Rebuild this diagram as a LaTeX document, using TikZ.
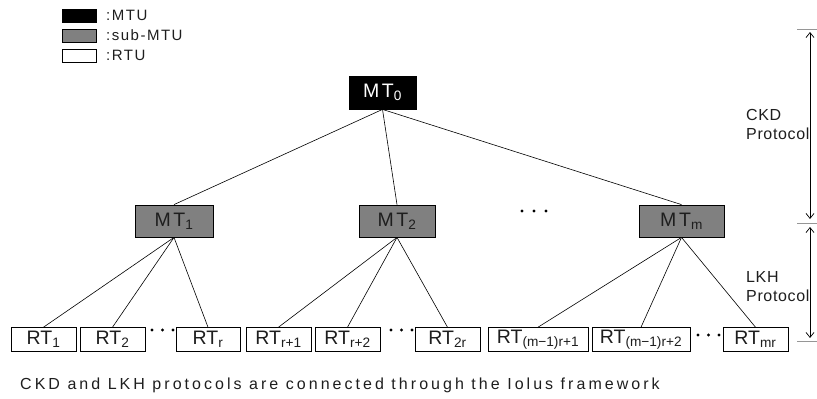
\documentclass[tikz,border=0pt]{standalone}
\usepackage{fontspec}
\setmainfont{Liberation Sans}
\usetikzlibrary{arrows.meta}
\definecolor{subgray}{RGB}{128,128,128}
\definecolor{rulegray}{RGB}{150,150,150}
\definecolor{txt}{RGB}{30,30,30}
\begin{document}
\begin{tikzpicture}[x=1pt,y=-1pt,
  mtbox/.style={draw=black, line width=0.8pt, minimum height=32pt, inner sep=0pt,
    font=\fontsize{19.5}{21}\selectfont\addfontfeature{LetterSpace=14}},
  rootbox/.style={mtbox, fill=black, text=white},
  subbox/.style={mtbox, fill=subgray, text=txt},
  rtbox/.style={draw=black, line width=0.6pt, fill=white, minimum height=24pt, inner sep=0pt,
    font=\fontsize{19.5}{21}\selectfont, text=txt},
  link/.style={draw=black, line width=0.6pt},
  legbox/.style={draw=black, line width=0.6pt, minimum width=34pt, minimum height=13pt, inner sep=0pt},
  legtext/.style={anchor=west, inner sep=0pt, font=\fontsize{15}{17}\selectfont\addfontfeature{LetterSpace=10}, text=txt},
  sidetext/.style={anchor=west, align=left, inner sep=0pt, font=\fontsize{16}{19}\selectfont\addfontfeature{LetterSpace=4}, text=txt},
  rulex/.style={draw=rulegray, line width=1pt},
  dimarrow/.style={draw=black, line width=0.7pt, {Straight Barb[length=5pt,width=8pt]}-{Straight Barb[length=5pt,width=8pt]}},
  dotc/.style={fill=black}
]
\useasboundingbox (0,0) rectangle (817,399);

% legend
\node[legbox, fill=black] (lg1) at (79,15.5) {};
\node[legbox, fill=subgray] (lg2) at (79,35.5) {};
\node[legbox, fill=white] (lg3) at (79,55.5) {};
\node[legtext] (lt1) at (106,15.5) {:MTU};
\node[legtext] (lt2) at (106,35.5) {:sub-MTU};
\node[legtext] (lt3) at (106,55.5) {:RTU};

% MT nodes
\node[rootbox, minimum width=67pt, minimum height=33pt] (mt0) at (382.5,92.5) {MT\textsubscript{0}};
\node[subbox, minimum width=78pt] (mt1) at (174,221) {MT\textsubscript{1}};
\node[subbox, minimum width=76pt] (mt2) at (397,221) {MT\textsubscript{2}};
\node[subbox, minimum width=85pt] (mtm) at (681.5,221) {MT\textsubscript{m}};

% RT nodes
\node[rtbox, minimum width=65pt] (rt1) at (43.5,339.5) {RT\textsubscript{1}};
\node[rtbox, minimum width=65pt] (rt2) at (112.5,339.5) {RT\textsubscript{2}};
\node[rtbox, minimum width=64pt] (rtr) at (208,339.5) {RT\textsubscript{r}};
\node[rtbox, minimum width=65pt] (rtr1) at (278.5,339.5) {RT\textsubscript{r+1}};
\node[rtbox, minimum width=65pt] (rtr2) at (347.5,339.5) {RT\textsubscript{r+2}};
\node[rtbox, minimum width=65pt] (rt2r) at (447.5,339.5) {RT\textsubscript{2r}};
\node[rtbox, minimum width=100pt] (rtm1) at (538,339.5) {RT\textsubscript{(m−1)r+1}};
\node[rtbox, minimum width=98pt] (rtm2) at (641,339.5) {RT\textsubscript{(m−1)r+2}};
\node[rtbox, minimum width=65pt] (rtmr) at (755.5,339.5) {RT\textsubscript{mr}};

% links
\draw[link] (mt0.south) -- (mt1.north);
\draw[link] (mt0.south) -- (mt2.north);
\draw[link] (mt0.south) -- (mtm.north);
\draw[link] (mt1.south) -- (rt1.north);
\draw[link] (mt1.south) -- (rt2.north);
\draw[link] (mt1.south) -- (rtr.north);
\draw[link] (mt2.south) -- (rtr1.north);
\draw[link] (mt2.south) -- (rtr2.north);
\draw[link] (mt2.south) -- (rt2r.north);
\draw[link] (mtm.south) -- (rtm1.north);
\draw[link] (mtm.south) -- (rtm2.north);
\draw[link] (mtm.south) -- (rtmr.north);

% ellipsis dots
\foreach \x in {522,534,546} \fill[dotc] (\x,211) circle (1.6pt);
\foreach \x in {152,162.5,173} \fill[dotc] (\x,330) circle (1.6pt);
\foreach \x in {391,401.5,412} \fill[dotc] (\x,330) circle (1.6pt);
\foreach \x in {698,708.5,719} \fill[dotc] (\x,335) circle (1.6pt);

% right dimension marks
\coordinate (ra) at (797,29);  \coordinate (rb) at (817,29);
\coordinate (rc) at (797,223); \coordinate (rd) at (817,223);
\coordinate (re) at (797,341); \coordinate (rf) at (817,341);
\draw[rulex] (ra) -- (rb);
\draw[rulex] (rc) -- (rd);
\draw[rulex] (re) -- (rf);
\coordinate (a1) at (810,32);  \coordinate (a2) at (810,219);
\coordinate (a3) at (810,227); \coordinate (a4) at (810,338);
\draw[dimarrow] (a1) -- (a2);
\draw[dimarrow] (a3) -- (a4);
\node[sidetext] (ckd) at (746,124.5) {CKD\\Protocol};
\node[sidetext] (lkh) at (746,286.5) {LKH\\Protocol};

% caption
\node[anchor=west, inner sep=0pt, font=\fontsize{16}{18}\selectfont\addfontfeature{LetterSpace=19}, text=txt] (cap) at (20,385)
  {CKD and LKH protocols are connected through the Iolus framework};
\end{tikzpicture}
\end{document}
